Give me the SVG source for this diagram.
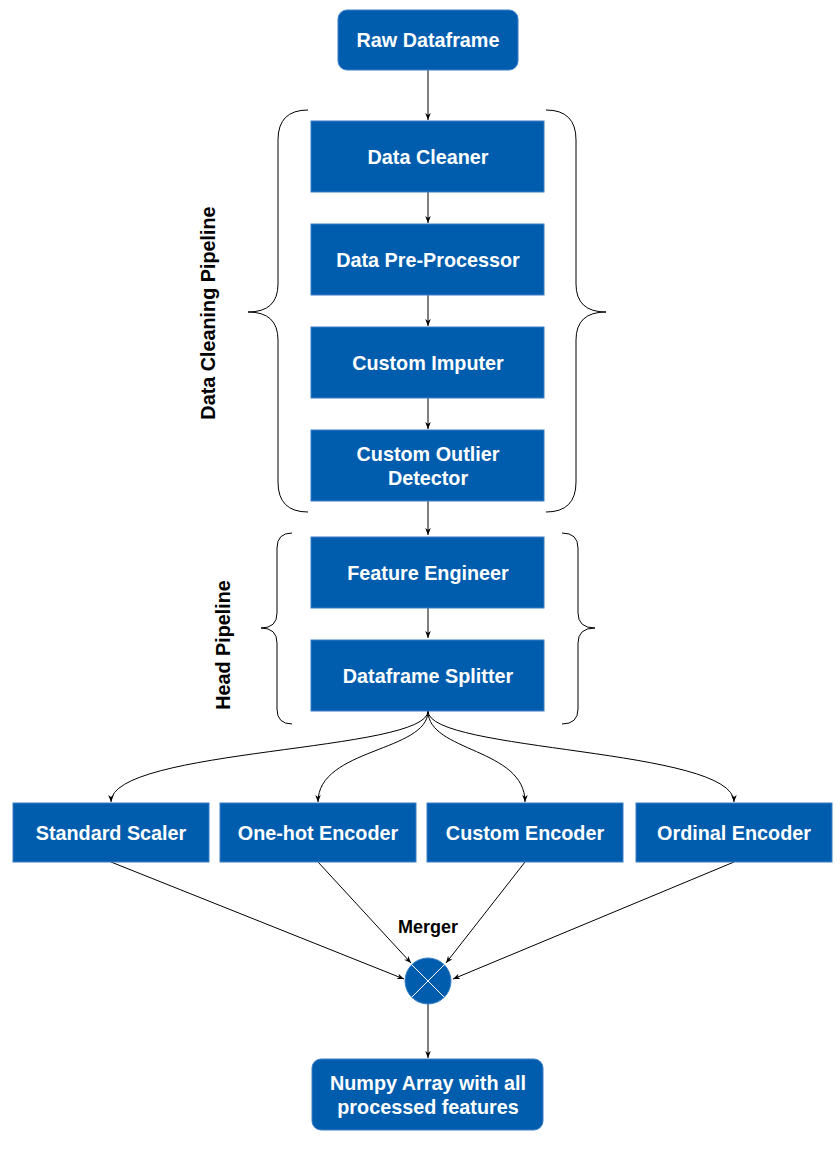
<svg xmlns="http://www.w3.org/2000/svg" width="840" height="1157" viewBox="0 0 840 1157">
<defs>
<style>
.box{fill:#005DAE;stroke:#3A7FC6;stroke-width:1}
.lbl{font-family:"Liberation Sans",Arial,sans-serif;font-weight:bold;font-size:19.8px;fill:#ffffff;text-anchor:middle}
.side{font-family:"Liberation Sans",Arial,sans-serif;font-weight:bold;font-size:19.8px;fill:#000000;text-anchor:middle}
.edge{fill:none;stroke:#000000;stroke-width:1}
.brace{fill:none;stroke:#000000;stroke-width:1}
</style>
<marker id="arr" viewBox="0 0 10 10" refX="10" refY="5" markerWidth="7" markerHeight="7" markerUnits="userSpaceOnUse" orient="auto">
<path d="M0,1 L10,5 L0,9 L3,5 Z" fill="#000000"/>
</marker>
</defs>
<rect width="840" height="1157" fill="#ffffff"/>

<g id="braces">
<path class="brace" d="M308,110 Q278,110 278,140 L278,284 Q278,312 248,312 Q278,312 278,340 L278,482 Q278,512 308,512"/>
<path class="brace" d="M546,110 Q576,110 576,140 L576,284 Q576,312 606,312 Q576,312 576,340 L576,482 Q576,512 546,512"/>
<path class="brace" d="M292,533 Q277,533 277,548 L277,613 Q277,628 261,628 Q277,628 277,643 L277,709 Q277,724 292,724"/>
<path class="brace" d="M562,533 Q578,533 578,548 L578,613 Q578,628 595,628 Q578,628 578,643 L578,709 Q578,724 562,724"/>
</g>

<g id="label-data-cleaning">
<text class="side" transform="translate(215,313) rotate(-90)">Data Cleaning Pipeline</text>
</g>
<g id="label-head">
<text class="side" transform="translate(230,645) rotate(-90)">Head Pipeline</text>
</g>

<g id="connectors">
<path class="edge" d="M428,70 L428,120" marker-end="url(#arr)"/>
<path class="edge" d="M428,192 L428,223" marker-end="url(#arr)"/>
<path class="edge" d="M428,295 L428,326" marker-end="url(#arr)"/>
<path class="edge" d="M428,398 L428,429" marker-end="url(#arr)"/>
<path class="edge" d="M428,501 L428,535" marker-end="url(#arr)"/>
<path class="edge" d="M428,608 L428,638" marker-end="url(#arr)"/>
<path class="edge" d="M428,711 C428,752 111,748 111,802" marker-end="url(#arr)"/>
<path class="edge" d="M428,711 C428,752 318,748 318,802" marker-end="url(#arr)"/>
<path class="edge" d="M428,711 C428,752 525,748 525,802" marker-end="url(#arr)"/>
<path class="edge" d="M428,711 C428,752 734,748 734,802" marker-end="url(#arr)"/>
<path class="edge" d="M111,862 L404,979" marker-end="url(#arr)"/>
<path class="edge" d="M318,862 L411,963" marker-end="url(#arr)"/>
<path class="edge" d="M525,862 L446,963" marker-end="url(#arr)"/>
<path class="edge" d="M734,862 L453,979" marker-end="url(#arr)"/>
<path class="edge" d="M428,1004 L428,1058" marker-end="url(#arr)"/>
</g>

<g id="raw-dataframe">
<rect class="box" x="338" y="10" width="180" height="60" rx="9"/>
<text class="lbl" x="428" y="47">Raw Dataframe</text>
</g>
<g id="data-cleaner">
<rect class="box" x="311" y="121" width="233" height="71"/>
<text class="lbl" x="428" y="164">Data Cleaner</text>
</g>
<g id="data-preprocessor">
<rect class="box" x="311" y="224" width="233" height="71"/>
<text class="lbl" x="428" y="267">Data Pre-Processor</text>
</g>
<g id="custom-imputer">
<rect class="box" x="311" y="327" width="233" height="71"/>
<text class="lbl" x="428" y="370">Custom Imputer</text>
</g>
<g id="custom-outlier-detector">
<rect class="box" x="311" y="430" width="233" height="71"/>
<text class="lbl" x="428" y="461">Custom Outlier</text>
<text class="lbl" x="428" y="485">Detector</text>
</g>
<g id="feature-engineer">
<rect class="box" x="311" y="537" width="233" height="71"/>
<text class="lbl" x="428" y="580">Feature Engineer</text>
</g>
<g id="dataframe-splitter">
<rect class="box" x="311" y="640" width="233" height="71"/>
<text class="lbl" x="428" y="683">Dataframe Splitter</text>
</g>
<g id="standard-scaler">
<rect class="box" x="13" y="803" width="196" height="59"/>
<text class="lbl" x="111" y="840">Standard Scaler</text>
</g>
<g id="onehot-encoder">
<rect class="box" x="220" y="803" width="196" height="59"/>
<text class="lbl" x="318" y="840">One-hot Encoder</text>
</g>
<g id="custom-encoder">
<rect class="box" x="427" y="803" width="196" height="59"/>
<text class="lbl" x="525" y="840">Custom Encoder</text>
</g>
<g id="ordinal-encoder">
<rect class="box" x="636" y="803" width="196" height="59"/>
<text class="lbl" x="734" y="840">Ordinal Encoder</text>
</g>
<g id="merger">
<circle class="box" cx="428" cy="981" r="23"/>
<path d="M411.7,964.7 L444.3,997.3 M444.3,964.7 L411.7,997.3" stroke="#ffffff" stroke-width="1" fill="none"/>
<text x="428" y="933" font-family="Liberation Sans, Arial, sans-serif" font-weight="bold" font-size="18px" text-anchor="middle" fill="#000000">Merger</text>
</g>
<g id="numpy-array">
<rect class="box" x="312" y="1059" width="231" height="71" rx="9"/>
<text class="lbl" x="428" y="1090">Numpy Array with all</text>
<text class="lbl" x="428" y="1114">processed features</text>
</g>
</svg>
